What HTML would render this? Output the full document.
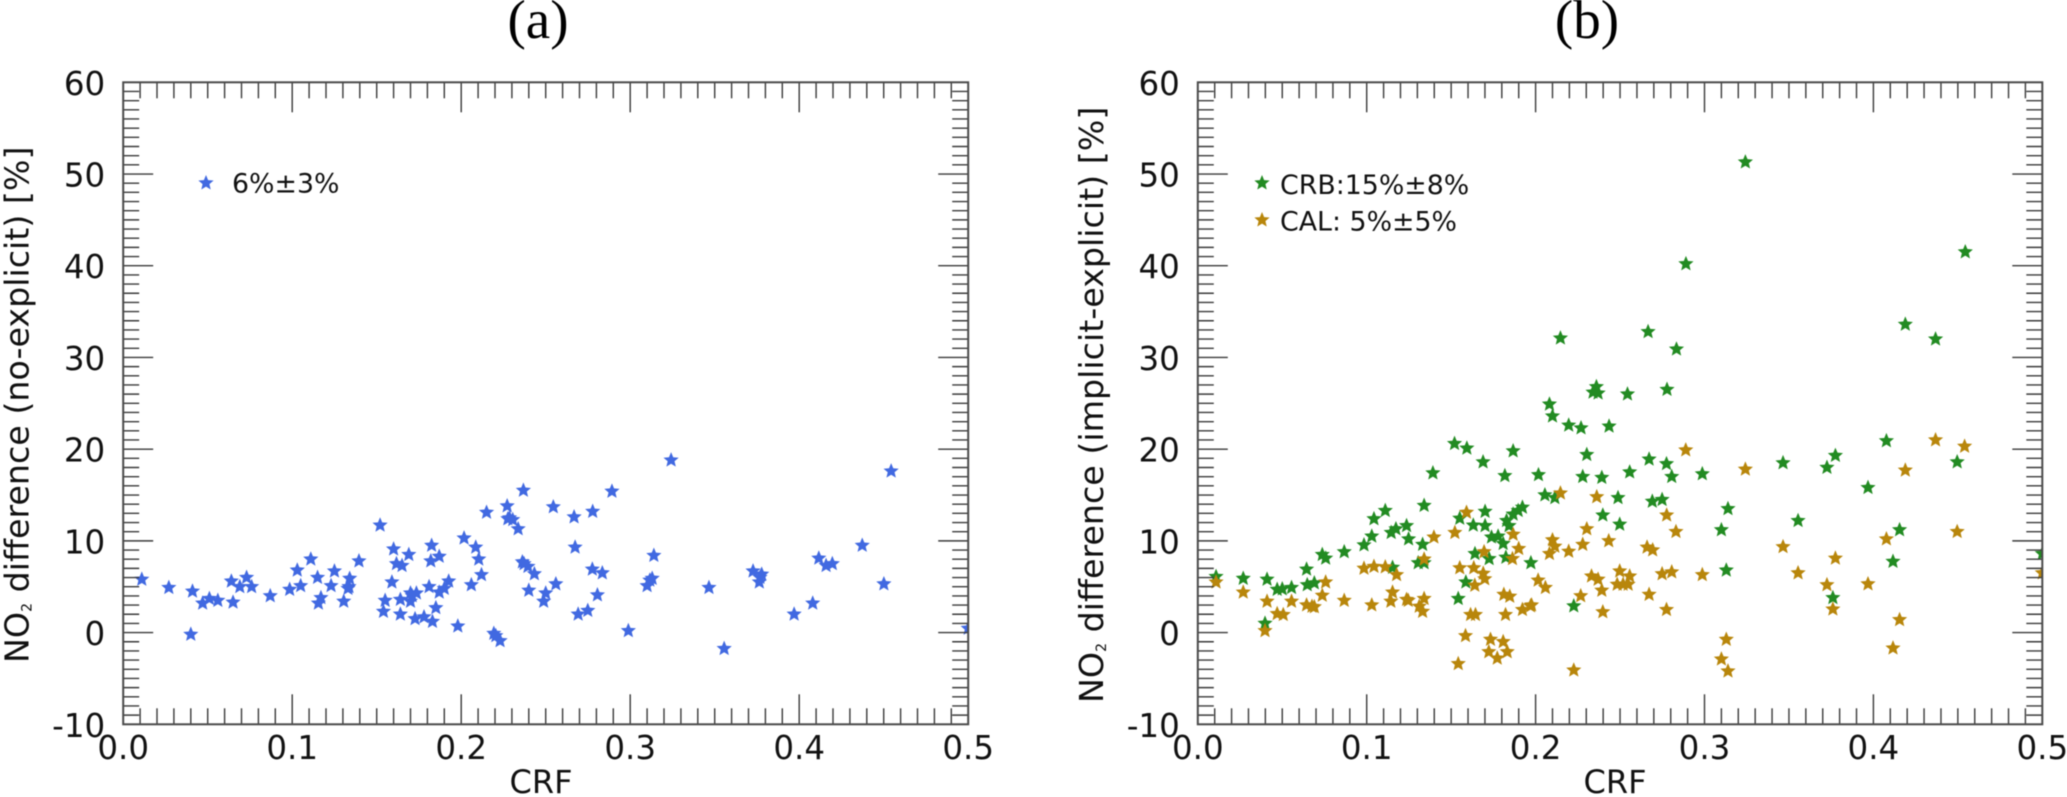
<!DOCTYPE html>
<html>
<head>
<meta charset="utf-8">
<title>NO2 difference vs CRF</title>
<style>
html,body{margin:0;padding:0;background:#fff;width:2067px;height:797px;overflow:hidden}
svg{display:block;filter:blur(0.45px)}
text{font-family:"DejaVu Sans",sans-serif;fill:#111}
.ttl{font-family:"Liberation Serif",serif;font-size:55px;text-anchor:middle;fill:#000}
.tk{font-size:32.5px}
.ax{font-size:33.3px}
.lg{font-size:26.8px}
</style>
</head>
<body>
<svg id="chart" xmlns="http://www.w3.org/2000/svg" width="2067" height="797" viewBox="0 0 2067 797">
  <rect width="2067" height="797" fill="#fff"/>
  <defs>
    <clipPath id="clip-a"><rect x="123.2" y="82.3" width="845" height="642"/></clipPath>
    <clipPath id="clip-b"><rect x="1197.8" y="82.3" width="844.5" height="642"/></clipPath>
  </defs>
  <text class="ttl" x="538" y="38">(a)</text>
  <text class="ttl" x="1587" y="38">(b)</text>
  <g id="panel-a"></g>
  <g id="panel-b"></g>
  <text class="ax" transform="translate(28.5,663) rotate(-90)">NO<tspan font-size="14" dy="3">2</tspan><tspan dy="-3"> difference (no-explicit) [%]</tspan></text>
  <text class="ax" transform="translate(1103,703) rotate(-90)">NO<tspan font-size="14" dy="3">2</tspan><tspan dy="-3"> difference (implicit-explicit) [%]</tspan></text>
  <text class="ax" x="541" y="793" text-anchor="middle" style="font-size:32px">CRF</text>
  <text class="ax" x="1615" y="793" text-anchor="middle" style="font-size:32px">CRF</text>
  <text class="lg" x="232" y="192.7">6%±3%</text>
  <text class="lg" x="1280" y="194">CRB:15%±8%</text>
  <text class="lg" x="1280" y="230.7">CAL: 5%±5%</text>
</svg>
<script>
const xTickLabels = ['0.0','0.1','0.2','0.3','0.4','0.5'];
const xTickValues = [0,0.1,0.2,0.3,0.4,0.5];
const yTickLabels = ['-10','0','10','20','30','40','50','60'];
const yTickValues = [-10,0,10,20,30,40,50,60];

const noExplicitCrf = [.011,.027,.041,.040,.047,.051,.056,.064,.065,.069,.073,.076,.087,.0985,.103,.105,.111,.115,.117,.1155,.125,.123,.1305,.134,.1336,.133,.1395,.152,.160,.159,.155,.154,.1617,.165,.164,.164,.169,.170,.1735,.171,.170,.1727,.178,.183,.181,.1825,.182,.187,.185,.187,.190,.1926,.198,.2017,.2086,.2104,.212,.206,.2193,.2205,.223,.215,.2272,.2368,.2276,.2305,.2286,.2337,.2545,.2668,.2778,.2892,.3242,.2362,.2372,.2395,.2433,.24,.25,.2488,.256,.2674,.2776,.2835,.2806,.2749,.2692,.2989,.314,.313,.3116,.31,.3466,.3556,.3727,.3778,.3768,.3764,.397,.408,.4116,.4159,.4196,.4373,.4501,.4544,.5];
const noExplicitNo2 = [5.8,4.9,4.5,-.2,3.2,3.7,3.5,5.6,3.3,5.0,6.0,5.0,4.0,4.7,6.8,5.1,8.0,6.0,3.8,3.2,6.7,5.1,3.4,5.9,5.0,4.8,7.8,11.7,9.1,5.5,3.5,2.3,7.5,7.3,3.6,2.0,8.5,4.3,4.3,4.0,3.4,1.5,1.7,1.2,5.0,9.5,7.8,8.3,2.7,4.4,4.8,5.6,.7,10.3,9.3,8.0,6.3,5.2,-.1,-.35,-.9,13.1,13.8,15.5,12.4,12.3,12.5,11.3,13.7,12.6,13.2,15.4,18.8,7.7,7.5,7.2,6.4,4.6,4.3,3.4,5.3,9.3,6.9,6.5,4.1,2.4,2.0,.2,8.4,5.9,5.7,5.1,4.9,-1.75,6.7,6.35,6.0,5.5,2.0,3.2,8.1,7.3,7.5,9.5,5.3,17.6,.45];

const crbCrf = [.3242,.289,.4544,.2147,.2666,.2834,.4189,.4368,.2360,.2340,.2370,.2544,.2778,.2082,.2100,.2196,.2269,.2435,.2303,.2672,.2775,.2806,.2557,.2392,.2279,.2017,.2987,.3465,.3725,.3775,.4077,.4496,.3968,.2055,.2114,.2488,.2691,.2749,.3139,.2398,.2498,.3554,.3100,.4155,.4116,.3129,.3760,.2226,.5,.0108,.0269,.041,.0398,.0470,.05,.0555,.0644,.0648,.0690,.0737,.0757,.0867,.0984,.103,.1043,.111,.1145,.1173,.1236,.1248,.1331,.134,.1153,.1305,.134,.1587,.1542,.1551,.1631,.1701,.1701,.1641,.1725,.1739,.1778,.1808,.1824,.1828,.1843,.1867,.1897,.1922,.1972,.1392,.152,.1593,.1689,.1867,.1818];
const crbNo2 = [51.3,40.2,41.5,32.1,32.8,30.9,33.6,32.0,26.8,26.2,26.1,26.0,26.5,24.9,23.6,22.6,22.3,22.5,19.4,18.9,18.4,17.0,17.5,16.9,17.0,17.2,17.3,18.5,18.0,19.3,20.9,18.6,15.8,15.0,14.7,14.7,14.3,14.5,13.5,12.8,11.8,12.2,11.2,11.2,7.75,6.8,3.8,2.9,8.6,6.1,5.9,5.8,1.0,4.7,4.75,4.9,6.9,5.2,5.4,8.5,8.1,8.8,9.55,10.5,12.4,13.3,10.9,11.3,11.65,10.2,9.6,13.85,7.1,7.6,7.6,5.5,3.7,12.45,11.7,13.2,11.65,8.6,8.05,10.4,10.5,9.7,8.2,12.2,11.65,12.9,13.3,13.65,7.6,17.4,20.6,20.1,18.6,19.8,17.1];

const calCrf = [.2889,.3242,.4189,.4368,.4540,.2147,.2362,.2776,.2831,.2303,.2433,.2279,.2100,.2114,.2082,.2196,.2660,.2693,.3465,.4496,.4077,.3775,.3554,.3725,.3968,.3760,.4155,.4116,.3129,.3100,.3139,.2226,.2398,.2775,.2672,.2987,.2749,.2806,.2498,.2557,.2548,.2483,.2518,.2331,.2370,.2392,.2267,.2015,.2058,.1976,.5,.0108,.0269,.041,.0398,.047,.0506,.0555,.0644,.0676,.069,.0737,.0757,.0867,.0984,.1043,.111,.1177,.103,.1153,.1143,.1236,.1246,.1311,.134,.1331,.134,.1398,.1522,.1591,.1551,.1634,.169,.1699,.164,.1615,.1644,.1585,.1542,.1695,.1733,.1808,.1723,.1832,.1773,.1812,.1847,.1822,.1867,.19,.1863,.1922,.197];
const calNo2 = [19.9,17.8,17.7,21.0,20.3,15.2,14.8,12.8,11.0,11.3,10.0,9.6,10.1,9.4,8.6,8.85,9.3,9.0,9.35,11.0,10.2,8.1,6.5,5.2,5.3,2.55,1.4,-1.7,-.75,-2.9,-4.2,-4.1,2.25,2.5,4.15,6.3,6.4,6.6,6.7,6.15,5.25,5.25,5.25,6.15,5.8,4.6,4.0,5.7,4.9,3.0,6.5,5.5,4.4,3.4,.2,2.05,1.95,3.4,3.0,2.85,2.8,4.05,5.5,3.5,7.0,7.2,7.15,6.3,3.0,4.4,3.4,3.6,3.5,2.85,3.7,2.3,8.0,10.4,10.9,13.1,7.05,7.05,6.45,5.85,5.15,1.95,1.95,-.35,-3.4,8.8,-.75,-1.0,-2.1,-2.1,-2.8,4.15,3.95,1.95,10.7,9.15,8.05,2.5,2.9];

const NS = 'http://www.w3.org/2000/svg';
const BLUE = '#4169E1', GREEN = '#228B22', GOLD = '#B8860B', INK = '#3a3a3a';

function node(parent, tag, attrs) {
  const el = document.createElementNS(NS, tag);
  for (const k in attrs) el.setAttribute(k, attrs[k]);
  parent.appendChild(el);
  return el;
}

function starPath(cx, cy, R) {
  const r = R * 0.45;
  let d = '';
  for (let i = 0; i < 10; i++) {
    const a = -Math.PI / 2 + i * Math.PI / 5;
    const q = i % 2 ? r : R;
    d += (i ? 'L' : 'M') + (cx + q * Math.cos(a)).toFixed(2) + ' ' + (cy + q * Math.sin(a)).toFixed(2);
  }
  return d + 'Z';
}

function drawStar(parent, cx, cy, color, name) {
  const el = node(parent, 'path', { d: starPath(cx, cy, 8), fill: color });
  
  
  return el;
}

function drawPanel(rootId, left, right, clipId, series) {
  const root = document.getElementById(rootId);
  const top = 82.3, bottom = 724.3;
  const sx = v => left + (right - left) * v / 0.5;
  const sy = v => bottom - (bottom - top) * (v + 10) / 70;

  const marks = node(root, 'g', { 'clip-path': 'url(#' + clipId + ')' });
  
  
  series.forEach(s => {
    s.x.forEach((v, i) => drawStar(marks, sx(v), sy(s.y[i]), s.color, s.name));
  });

  const axes = node(root, 'g', { stroke: INK, 'stroke-width': 1.4, fill: 'none' });
  
  
  for (let i = 1; i < 50; i++) {
    const len = i % 10 === 0 ? 30 : 16;
    const x = sx(i / 100);
    node(axes, 'line', { x1: x, x2: x, y1: bottom, y2: bottom - len });
    node(axes, 'line', { x1: x, x2: x, y1: top, y2: top + len });
  }
  for (let i = -9; i < 60; i++) {
    const len = i % 10 === 0 ? 30 : 16;
    const y = sy(i);
    node(axes, 'line', { x1: left, x2: left + len, y1: y, y2: y });
    node(axes, 'line', { x1: right, x2: right - len, y1: y, y2: y });
  }
  const frame = node(root, 'rect', { x: left, y: top, width: right - left, height: bottom - top, fill: 'none', stroke: '#4a4a4a', 'stroke-width': 2 });
  
  

  xTickValues.forEach((v, i) => {
    const t = node(root, 'text', { class: 'tk', x: sx(v), y: 759, 'text-anchor': 'middle' });
    t.textContent = xTickLabels[i];
    
    
  });
  yTickValues.forEach((v, i) => {
    const t = node(root, 'text', { class: 'tk', x: left - 18, y: sy(v) + 12.5, 'text-anchor': 'end' });
    t.textContent = yTickLabels[i];
    
    
  });
}

drawPanel('panel-a', 123.2, 968.2, 'clip-a', [
  { x: noExplicitCrf, y: noExplicitNo2, color: BLUE, name: 'no-explicit-point' }
]);
drawPanel('panel-b', 1197.8, 2042.3, 'clip-b', [
  { x: crbCrf, y: crbNo2, color: GREEN, name: 'crb-point' },
  { x: calCrf, y: calNo2, color: GOLD, name: 'cal-point' }
]);

const svgRoot = document.getElementById('chart');
drawStar(svgRoot, 206, 183, BLUE, 'legend-a-marker');
drawStar(svgRoot, 1262, 183, GREEN, 'legend-crb-marker');
drawStar(svgRoot, 1262, 220, GOLD, 'legend-cal-marker');
</script>
</body>
</html>
